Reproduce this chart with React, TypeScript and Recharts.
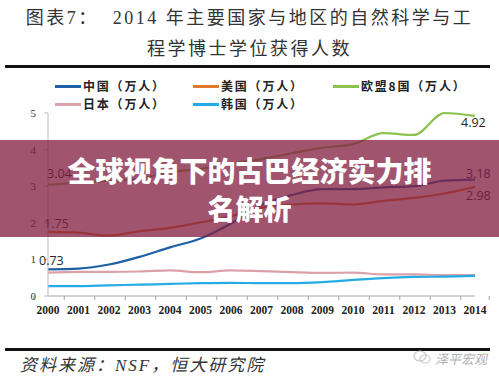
import { LineChart, Line, XAxis, YAxis } from 'recharts';

const YEARS = ['2000', '2001', '2002', '2003', '2004', '2005', '2006', '2007', '2008', '2009', '2010', '2011', '2012', '2013', '2014'];
const CHINA = [0.73, 0.75, 0.86, 1.07, 1.33, 1.57, 1.98, 2.49, 2.76, 2.92, 2.92, 2.97, 3.0, 3.15, 3.18];
const USA = [1.75, 1.73, 1.65, 1.77, 1.86, 2.01, 2.18, 2.41, 2.5, 2.53, 2.5, 2.6, 2.68, 2.8, 2.98];
const EU8 = [3.04, 3.1, 3.15, 3.2, 3.39, 3.47, 3.62, 3.74, 3.9, 4.05, 4.15, 4.45, 4.4, 5.0, 4.92];
const JAPAN = [0.64, 0.66, 0.66, 0.67, 0.7, 0.65, 0.7, 0.68, 0.65, 0.63, 0.64, 0.59, 0.59, 0.57, 0.57];
const KOREA = [0.27, 0.27, 0.29, 0.31, 0.33, 0.35, 0.36, 0.35, 0.35, 0.38, 0.44, 0.49, 0.52, 0.53, 0.55];
const Y_TICKS = [0, 1, 2, 3, 4, 5];

const SERIES = [
  { key: 'china', name: '中国（万人）', color: '#1f5fa6', values: CHINA },
  { key: 'usa', name: '美国（万人）', color: '#e2792b', values: USA },
  { key: 'eu8', name: '欧盟8国（万人）', color: '#8cc350', values: EU8 },
  { key: 'japan', name: '日本（万人）', color: '#dca0aa', values: JAPAN },
  { key: 'korea', name: '韩国（万人）', color: '#25ace4', values: KOREA },
];

// which points get a value label, and where the text sits relative to the point
const LABELS: Record<string, { index: number; dx: number; dy: number }[]> = {
  china: [{ index: 0, dx: -9, dy: -4.5 }, { index: 14, dx: -9, dy: -2 }],
  usa: [{ index: 0, dx: -4, dy: -3.5 }, { index: 14, dx: -9, dy: 13.5 }],
  eu8: [{ index: 0, dx: -1, dy: -6.5 }, { index: 14, dx: -14, dy: 11 }],
};

const data = YEARS.map((year, i) => {
  const row: Record<string, number | string> = { year };
  SERIES.forEach((s) => (row[s.key] = s.values[i]));
  return row;
});

const W = 499;
const H = 379;
const MARGIN = { top: 113, right: 24, bottom: 53, left: 0 };
const Y_AXIS_W = 48;
const BAND = (W - MARGIN.right - Y_AXIS_W) / YEARS.length;

const serif = "'Liberation Serif', 'DejaVu Serif', 'Noto Sans CJK SC', serif";
const cjk = "'Noto Sans CJK SC', 'Noto Sans', sans-serif";

const XTick = (props: any) => {
  const { x, y, payload, index } = props;
  return (
    <g>
      <line x1={x - BAND / 2} y1={y} x2={x - BAND / 2} y2={y + 4} stroke="#a6a6a6" />
      {index === YEARS.length - 1 && (
        <line x1={x + BAND / 2} y1={y} x2={x + BAND / 2} y2={y + 4} stroke="#a6a6a6" />
      )}
      <text x={x} y={y + 18} textAnchor="middle" fontFamily={serif} fontSize={11.5} fontWeight={600} fill="#222">
        {payload.value}
      </text>
    </g>
  );
};

const makeLabel = (key: string) => (props: any) => {
  const { x, y, index, value } = props;
  const spec = (LABELS[key] || []).find((l) => l.index === index);
  if (!spec) return <g key={`${key}-${index}`} />;
  return (
    <text key={`${key}-${index}`} x={x + spec.dx} y={y + spec.dy} fontFamily="'Open Sans', 'Liberation Sans', sans-serif" fontSize={12.5} fill="#262626">
      {Number(value).toFixed(2)}
    </text>
  );
};

function LegendItem({ name, color, left, top }: { name: string; color: string; left: number; top: number }) {
  return (
    <div style={{ position: 'absolute', left, top, display: 'flex', alignItems: 'center', height: 16 }}>
      <div style={{ width: 26, height: 3, background: color, marginRight: 2 }} />
      <div style={{ fontFamily: cjk, fontSize: 12, lineHeight: '16px', height: 16, fontWeight: 700, color: '#222', letterSpacing: 1.8, whiteSpace: 'nowrap' }}>{name}</div>
    </div>
  );
}

const LEGEND_POS = [
  { left: 55, top: 78 },
  { left: 193, top: 78 },
  { left: 333, top: 78 },
  { left: 55, top: 96 },
  { left: 193, top: 96 },
];

export default function App() {
  return (
    <div style={{ position: 'absolute', left: 0, top: 0, width: W, height: H, background: '#fff', overflow: 'hidden' }}>
      {/* title */}
      <div style={{ position: 'absolute', left: 0, top: 3, width: W, textAlign: 'center', fontFamily: serif, fontSize: 18, color: '#333', letterSpacing: 2.5, lineHeight: '31px' }}>
        <div>图表7：&nbsp;&nbsp;2014 年主要国家与地区的自然科学与工</div>
        <div>程学博士学位获得人数</div>
      </div>
      <div style={{ position: 'absolute', left: 5, top: 65, width: 485, height: 3, background: '#111' }} />

      <div style={{ position: 'absolute', left: 0, top: 0 }}>
        <LineChart width={W} height={H} data={data} margin={MARGIN}>
          <XAxis
            dataKey="year"
            stroke="#a6a6a6"
            tickLine={false}
            tickSize={0}
            tickMargin={0}
            interval={0}
            tick={<XTick />}
          />
          <YAxis
            width={Y_AXIS_W}
            domain={[0, 5]}
            ticks={Y_TICKS}
            stroke="#bdbdbd"
            tickSize={4}
            tickMargin={8}
            tick={{ fontFamily: serif, fontSize: 11, fill: '#333' }}
          />
          {SERIES.map((s) => (
            <Line
              key={s.key}
              dataKey={s.key}
              name={s.name}
              type="monotone"
              stroke={s.color}
              strokeWidth={2.2}
              dot={false}
              isAnimationActive={false}
              label={makeLabel(s.key)}
            />
          ))}
        </LineChart>
      </div>

      {SERIES.map((s, i) => (
        <LegendItem key={s.key} name={s.name} color={s.color} left={LEGEND_POS[i].left} top={LEGEND_POS[i].top} />
      ))}

      {/* overlay banner */}
      <div style={{ position: 'absolute', left: 0, top: 140, width: W, height: 97, background: 'rgba(130,30,65,0.76)', textAlign: 'center', color: '#fff', fontFamily: cjk, fontWeight: 900, fontSize: 28, lineHeight: '38px', paddingTop: 11, boxSizing: 'border-box' }}>
        <div>全球视角下的古巴经济实力排</div>
        <div>名解析</div>
      </div>

      <div style={{ position: 'absolute', left: 5, top: 348, width: 485, height: 3, background: '#111' }} />
      <div style={{ position: 'absolute', left: 20, top: 351, fontFamily: serif, fontStyle: 'italic', fontSize: 17, color: '#333', letterSpacing: 2, whiteSpace: 'nowrap' }}>
        资料来源：NSF，恒大研究院
      </div>
      <svg style={{ position: 'absolute', left: 412, top: 348 }} width={20} height={18}>
        <ellipse cx={8} cy={8} rx={6} ry={5} fill="none" stroke="#c8c8c8" strokeWidth={1.2} />
        <ellipse cx={13} cy={11} rx={5} ry={4} fill="none" stroke="#c8c8c8" strokeWidth={1.2} />
      </svg>
      <div style={{ position: 'absolute', left: 435, top: 349, fontFamily: cjk, fontSize: 13, color: '#b0b0b0', fontStyle: 'italic', whiteSpace: 'nowrap' }}>
        泽平宏观
      </div>
    </div>
  );
}
